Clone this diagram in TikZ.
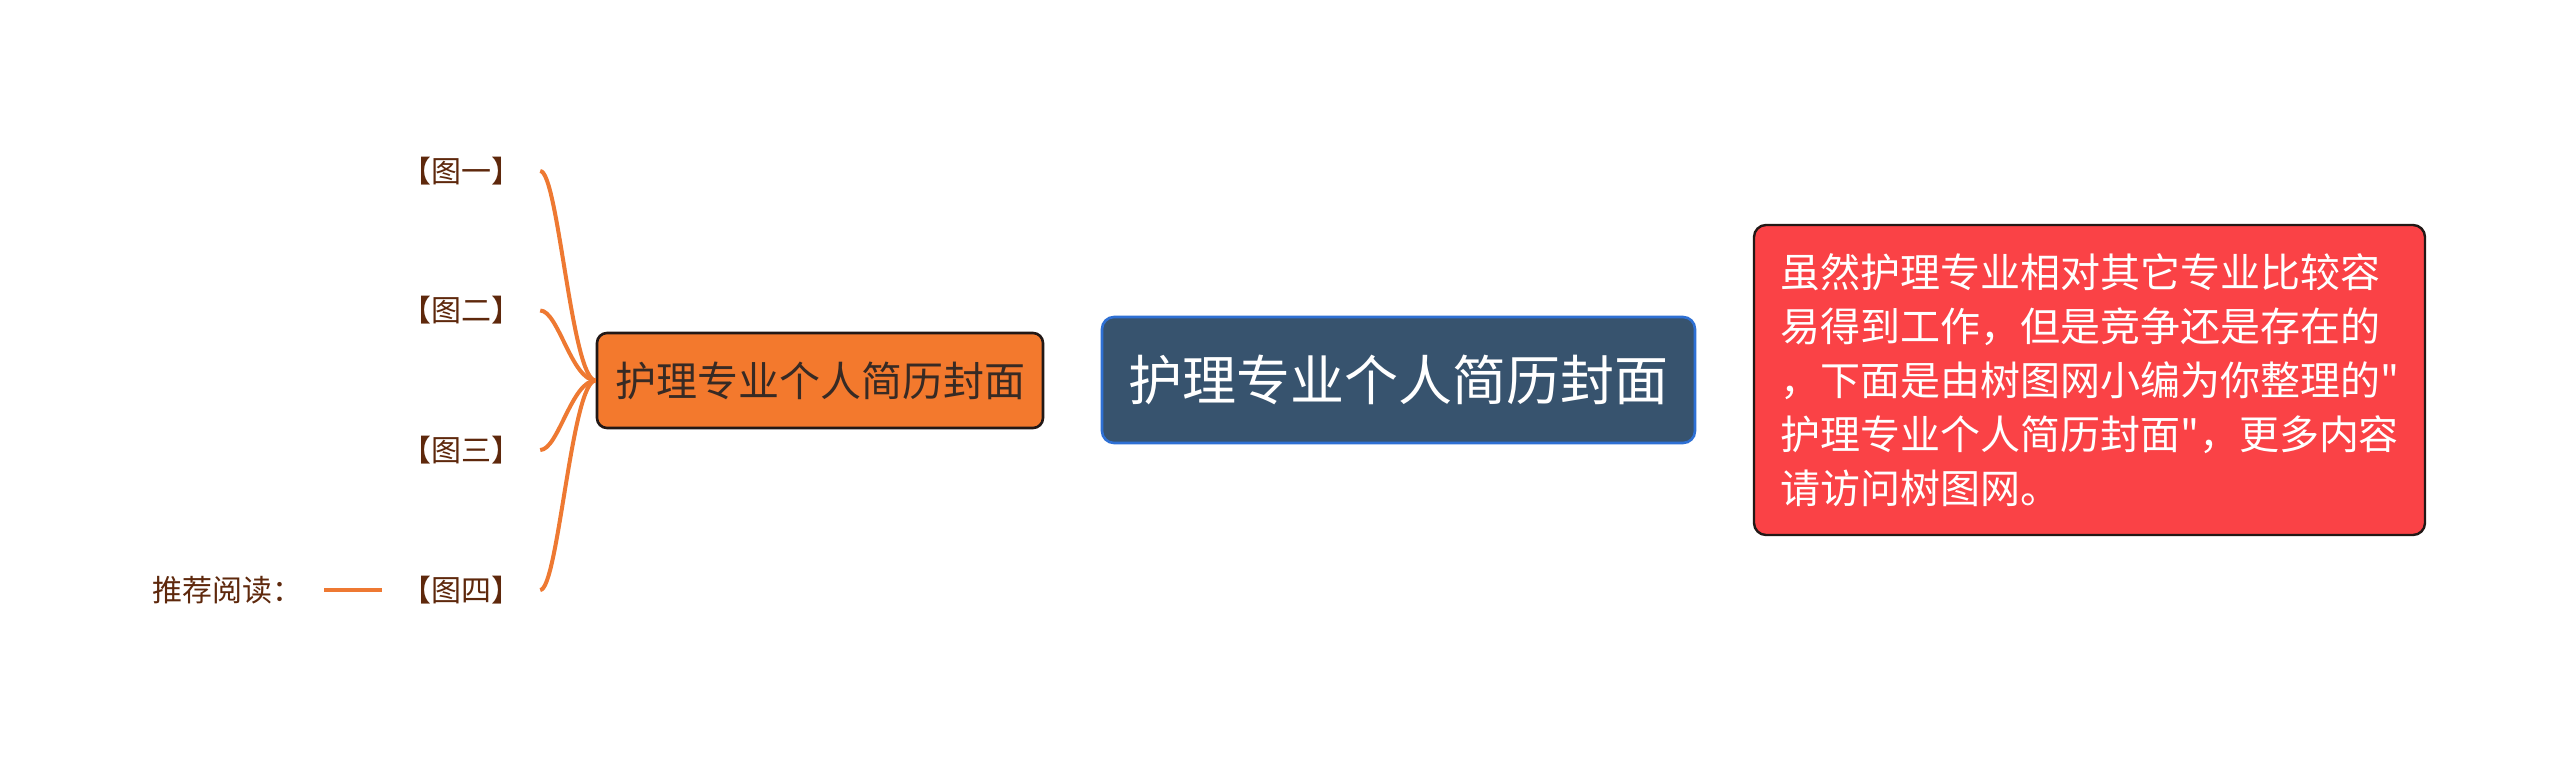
\documentclass[tikz,border=0pt]{standalone}
\usepackage{fontspec}
\newfontfamily\cjk{Noto Sans CJK SC}
\usetikzlibrary{backgrounds}
\definecolor{orangefill}{RGB}{243,121,45}
\definecolor{orangeline}{RGB}{238,121,50}
\definecolor{leafbrown}{RGB}{94,40,12}
\definecolor{subtext}{RGB}{55,42,36}
\definecolor{darkfill}{RGB}{55,83,110}
\definecolor{darkborder}{RGB}{46,112,212}
\definecolor{redfill}{RGB}{250,66,70}
\definecolor{redline}{RGB}{236,64,70}
\definecolor{boxborder}{RGB}{34,24,22}
\begin{document}
\begin{tikzpicture}[x=1pt,y=-1pt,
  leaf/.style={font=\cjk\fontsize{30}{36}\selectfont, text=leafbrown,
    inner xsep=19pt, inner ysep=0pt, text height=24.9pt, text depth=2.1pt},
  obox/.style={font=\cjk\fontsize{41}{48}\selectfont, text=subtext,
    fill=orangefill, draw=boxborder, line width=2.6pt, rounded corners=10pt,
    minimum width=446pt, minimum height=95pt, inner sep=0pt,
    text height=34pt, text depth=2.9pt},
  dbox/.style={font=\cjk\fontsize{54}{60}\selectfont, text=white,
    fill=darkfill, draw=darkborder, line width=2.6pt, rounded corners=12pt,
    minimum width=593pt, minimum height=126pt, inner sep=0pt,
    text height=44.8pt, text depth=3.8pt},
  rbox/.style={font=\cjk\fontsize{40}{54}\selectfont, text=white,
    fill=redfill, draw=boxborder, line width=2.4pt, rounded corners=12pt,
    minimum width=671pt, minimum height=310pt, inner sep=0pt, align=left},
  curve/.style={draw=orangeline, line width=4pt},
  thick connector/.style={line width=6pt}]
\useasboundingbox (0,0) rectangle (2560,761);
\fill[white] (0,0) rectangle (2560,761);

\node[obox] (sub) at (820,380.5) {护理专业个人简历封面};
\node[dbox] (root) at (1398.5,380) {护理专业个人简历封面};
\node[rbox] (note) at (2089.5,380) {虽然护理专业相对其它专业比较容\\易得到工作，但是竞争还是存在的\\，下面是由树图网小编为你整理的"\\护理专业个人简历封面"，更多内容\\请访问树图网。};

\node[leaf] (l1) at (461,171) {【图一】};
\node[leaf] (l2) at (461,310.5) {【图二】};
\node[leaf] (l3) at (461,450) {【图三】};
\node[leaf] (l4) at (461,590) {【图四】};
\node[leaf, inner xsep=22pt] (rec) at (227,590) {推荐阅读：};

\begin{scope}[on background layer]
\draw[orangeline, thick connector] (sub.east) -- (root.west);
\draw[redline, thick connector] (root.east) -- (note.west);
\end{scope}

\foreach \n in {l1,l2,l3,l4}{
  \draw[curve] (\n.east) .. controls +(18,0) and +(-24,0) .. (sub.west);
}
\draw[orangeline, line width=4pt] (rec.east) -- (l4.west);
\end{tikzpicture}
\end{document}
